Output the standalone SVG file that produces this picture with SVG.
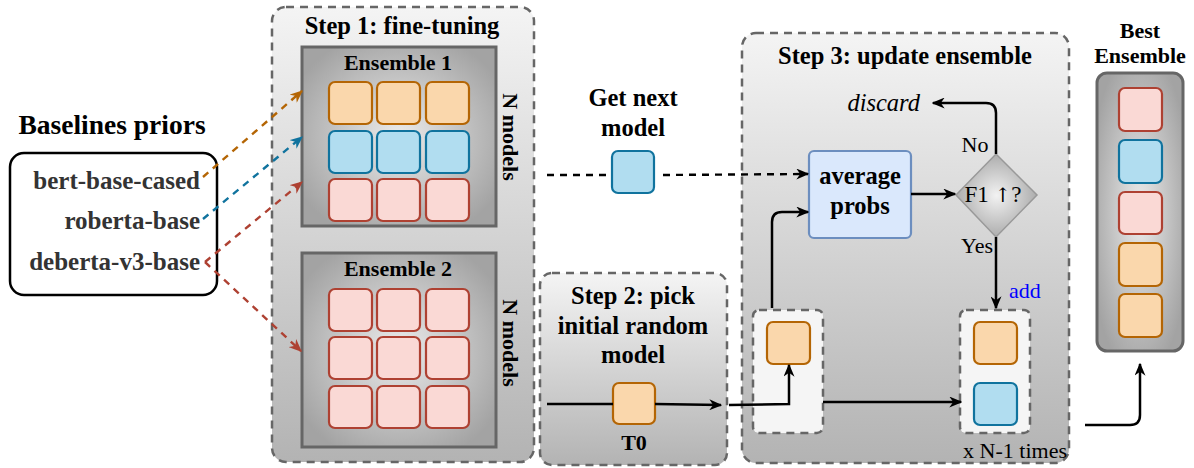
<svg xmlns="http://www.w3.org/2000/svg" width="1194" height="468" viewBox="0 0 1194 468">
<defs>
<linearGradient id="stepg" x1="0" y1="0" x2="0" y2="1"><stop offset="0" stop-color="#f4f4f4"/><stop offset="1" stop-color="#b3b3b3"/></linearGradient>
<radialGradient id="ensg" cx="0.5" cy="0.5" r="0.6"><stop offset="0" stop-color="#ebebeb"/><stop offset="1" stop-color="#a3a3a3"/></radialGradient>
<radialGradient id="diag" cx="0.5" cy="0.5" r="0.55"><stop offset="0" stop-color="#f2f2f2"/><stop offset="1" stop-color="#a6a6a6"/></radialGradient>
<marker id="ak" viewBox="0 0 10 10" refX="9" refY="5" markerWidth="13" markerHeight="11" markerUnits="userSpaceOnUse" orient="auto" preserveAspectRatio="none"><path d="M0,0 L10,5 L0,10 L3,5 z" fill="#000"/></marker>
<marker id="ao" viewBox="0 0 10 10" refX="9" refY="5" markerWidth="13" markerHeight="11" markerUnits="userSpaceOnUse" orient="auto" preserveAspectRatio="none"><path d="M0,0 L10,5 L0,10 L3,5 z" fill="#b46504"/></marker>
<marker id="ab" viewBox="0 0 10 10" refX="9" refY="5" markerWidth="13" markerHeight="11" markerUnits="userSpaceOnUse" orient="auto" preserveAspectRatio="none"><path d="M0,0 L10,5 L0,10 L3,5 z" fill="#10739e"/></marker>
<marker id="ar" viewBox="0 0 10 10" refX="9" refY="5" markerWidth="13" markerHeight="11" markerUnits="userSpaceOnUse" orient="auto" preserveAspectRatio="none"><path d="M0,0 L10,5 L0,10 L3,5 z" fill="#ae4132"/></marker>
</defs>
<style>
.step{fill:url(#stepg);stroke:#666;stroke-width:2.5;stroke-dasharray:8 6}
.ens{fill:url(#ensg);stroke:#666;stroke-width:3}
.small{fill:#f5f5f5;stroke:#666;stroke-width:2.5;stroke-dasharray:8 6}
.o{fill:#fad7ac;stroke:#b46504;stroke-width:2.2}
.b{fill:#b1ddf0;stroke:#10739e;stroke-width:2.2}
.r{fill:#fad9d5;stroke:#ae4132;stroke-width:2.2}
text{font-family:"Liberation Serif","Times New Roman",serif}
.bt{font-weight:bold;font-size:24.5px;fill:#000;text-anchor:middle}
.b22{font-weight:bold;font-size:22px;fill:#000;text-anchor:middle}
.pr{font-weight:bold;font-size:25px;fill:#333;text-anchor:end}
.rg{font-size:22px;fill:#000}
.ln{fill:none;stroke:#000;stroke-width:2.5}
.dl{fill:none;stroke-width:2.4;stroke-dasharray:7 6}
</style>

<g id="baselines">
<text x="112" y="134" class="bt" style="font-size:27.5px">Baselines priors</text>
<rect x="10" y="153" width="207" height="142" rx="14" fill="#fff" stroke="#000" stroke-width="2.5"/>
<text x="200" y="189" class="pr">bert-base-cased</text>
<text x="200" y="229" class="pr">roberta-base</text>
<text x="200" y="270" class="pr">deberta-v3-base</text>
</g>

<g id="step1">
<rect x="272" y="7" width="262" height="455" rx="14" class="step"/>
<text x="402" y="34" class="bt">Step 1: fine-tuning</text>
</g>

<g id="ensemble1">
<rect x="302" y="47" width="194" height="179" class="ens"/>
<text x="398" y="70" class="b22">Ensemble 1</text>
<rect x="329" y="82" width="43" height="42" rx="6" class="o"/>
<rect x="377" y="82" width="43" height="42" rx="6" class="o"/>
<rect x="426" y="82" width="43" height="42" rx="6" class="o"/>
<rect x="329" y="131" width="43" height="42" rx="6" class="b"/>
<rect x="377" y="131" width="43" height="42" rx="6" class="b"/>
<rect x="426" y="131" width="43" height="42" rx="6" class="b"/>
<rect x="329" y="179" width="43" height="42" rx="6" class="r"/>
<rect x="377" y="179" width="43" height="42" rx="6" class="r"/>
<rect x="426" y="179" width="43" height="42" rx="6" class="r"/>
<text transform="translate(503,137) rotate(90)" class="b22">N models</text>
</g>

<g id="ensemble2">
<rect x="302" y="253" width="194" height="194" class="ens"/>
<text x="398" y="276" class="b22">Ensemble 2</text>
<rect x="329" y="289" width="43" height="42" rx="6" class="r"/>
<rect x="377" y="289" width="43" height="42" rx="6" class="r"/>
<rect x="426" y="289" width="43" height="42" rx="6" class="r"/>
<rect x="329" y="337" width="43" height="42" rx="6" class="r"/>
<rect x="377" y="337" width="43" height="42" rx="6" class="r"/>
<rect x="426" y="337" width="43" height="42" rx="6" class="r"/>
<rect x="329" y="386" width="43" height="42" rx="6" class="r"/>
<rect x="377" y="386" width="43" height="42" rx="6" class="r"/>
<rect x="426" y="386" width="43" height="42" rx="6" class="r"/>
<text transform="translate(503,343) rotate(90)" class="b22">N models</text>
</g>

<g id="getnext">
<text x="633" y="106" class="bt">Get next</text>
<text x="633" y="136" class="bt">model</text>
<rect x="612" y="151" width="42" height="42" rx="6" class="b"/>
</g>

<g id="step2">
<rect x="540" y="273" width="187" height="192" rx="12" class="step"/>
<text x="633" y="304" class="bt">Step 2: pick</text>
<text x="633" y="334" class="bt">initial random</text>
<text x="633" y="363" class="bt">model</text>
<rect x="613" y="383" width="42" height="41" rx="6" class="o"/>
<text x="634" y="450" class="b22">T0</text>
</g>

<g id="step3">
<rect x="742" y="33" width="327" height="430" rx="14" class="step"/>
<text x="905" y="64" class="bt">Step 3: update ensemble</text>
<text x="920" y="111" class="rg" font-style="italic" text-anchor="end" style="font-size:24.5px">discard</text>
<text x="975" y="152" class="rg" text-anchor="middle">No</text>
<text x="977" y="253" class="rg" text-anchor="middle">Yes</text>
<text x="1025" y="298" class="rg" text-anchor="middle" fill="#0000ff" style="fill:#0000ff">add</text>
<text x="1067" y="458" class="rg" text-anchor="end">x N-1 times</text>
</g>

<g id="avgprobs">
<rect x="809" y="151" width="102" height="87" rx="5" fill="#dae8fc" stroke="#6c8ebf" stroke-width="2.2"/>
<text x="860" y="184" class="bt">average</text>
<text x="860" y="214" class="bt">probs</text>
</g>

<g id="f1decision">
<polygon points="996,154 1037,195 996,237 956,195" fill="url(#diag)" stroke="#999" stroke-width="1.5"/>
<text x="993" y="202" class="rg" text-anchor="middle" style="font-size:23px">F1 <tspan style="font-family:'DejaVu Serif','DejaVu Sans',serif;font-size:20px">↑</tspan>?</text>
</g>

<g id="currentbox">
<rect x="753" y="310" width="70" height="123" rx="6" class="small"/>
<rect x="767" y="322" width="43" height="42" rx="6" class="o"/>
</g>

<g id="updatedbox">
<rect x="960" y="310" width="70" height="123" rx="6" class="small"/>
<rect x="974" y="322" width="43" height="42" rx="6" class="o"/>
<rect x="974" y="383" width="43" height="42" rx="6" class="b"/>
</g>

<g id="bestensemble">
<text x="1140" y="38" class="b22">Best</text>
<text x="1140" y="63" class="b22">Ensemble</text>
<rect x="1097" y="73" width="86" height="278" rx="10" class="ens"/>
<rect x="1119" y="88" width="43" height="43" rx="6" class="r"/>
<rect x="1119" y="140" width="43" height="43" rx="6" class="b"/>
<rect x="1119" y="192" width="43" height="42" rx="6" class="r"/>
<rect x="1119" y="243" width="43" height="43" rx="6" class="o"/>
<rect x="1119" y="294" width="43" height="43" rx="6" class="o"/>
</g>

<g id="connectors">
<path d="M203,177 L302,91" class="dl" stroke="#b46504" marker-end="url(#ao)"/>
<path d="M203,219 L302,137" class="dl" stroke="#10739e" marker-end="url(#ab)"/>
<path d="M205,262 L302,182" class="dl" stroke="#ae4132" marker-end="url(#ar)"/>
<path d="M205,262 L301,351" class="dl" stroke="#ae4132" marker-end="url(#ar)"/>
<path d="M547,175 L612,175" class="dl" stroke="#000" stroke-width="2.5"/>
<path d="M663,175 L808,174" class="dl" stroke="#000" stroke-width="2.5" marker-end="url(#ak)"/>
<path d="M547,404 L613,404" class="ln"/>
<path d="M655,404 L721,405" class="ln" marker-end="url(#ak)"/>
<path d="M729,405 L789,404 L789,365" class="ln" marker-end="url(#ak)"/>
<path d="M772,308 L772,222 Q772,212 782,212 L808,212" class="ln" marker-end="url(#ak)"/>
<path d="M911,194 L955,194" class="ln" marker-end="url(#ak)"/>
<path d="M996,154 L996,113 Q996,103 986,103 L933,103" class="ln" marker-end="url(#ak)"/>
<path d="M996,237 L996,308" class="ln" marker-end="url(#ak)"/>
<path d="M823,402 L961,402" class="ln" marker-end="url(#ak)"/>
<path d="M1085,425 L1130,425 Q1140,425 1140,415 L1140,364" class="ln" marker-end="url(#ak)"/>
</g>
</svg>
